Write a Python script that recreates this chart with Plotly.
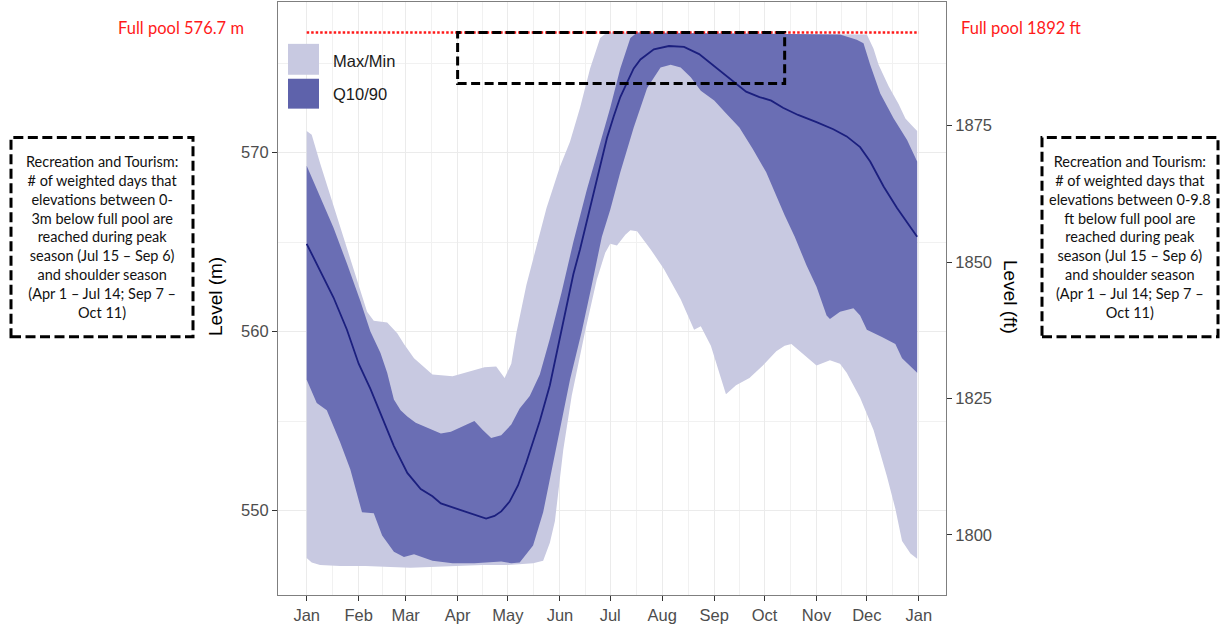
import plotly.graph_objects as go

# ---------------- data (day of year, metres) ----------------
max_days = [0, 3, 8, 16, 24, 31, 36, 40, 48, 54, 58, 64, 70, 75, 87, 98, 106, 113, 118, 122,
            125, 131, 137, 143, 151, 157, 163, 169, 175, 179, 334, 338, 341, 347, 353, 357, 361, 364]
max_m = [571.2, 571.0, 569.4, 567.0, 564.6, 562.5, 561.1, 560.6, 560.5, 559.9, 559.3, 558.5, 558.0,
         557.6, 557.5, 557.8, 558.0, 558.05, 557.4, 558.2, 559.9, 562.6, 564.8, 566.9, 569.2, 570.6,
         572.5, 574.7, 576.4, 576.7, 576.6, 575.8, 574.9, 573.7, 572.7, 571.9, 571.5, 571.2]

q90_days = [0, 8, 16, 24, 32, 38, 44, 48, 52, 56, 60, 65, 70, 75, 80, 86, 91, 96, 100, 105, 110,
            116, 122, 127, 133, 139, 145, 152, 159, 167, 173, 181, 187, 193, 197, 318, 328, 332,
            336, 342, 350, 358, 364]
q90_m = [569.26, 567.5, 565.8, 563.8, 561.7, 560.0, 558.8, 557.7, 556.2, 555.6, 555.25, 554.9, 554.7,
         554.5, 554.3, 554.4, 554.6, 554.8, 555.0, 554.5, 554.05, 554.2, 554.8, 555.7, 556.4, 557.6,
         559.6, 562.2, 565.0, 567.9, 569.9, 572.5, 574.7, 576.4, 576.7, 576.6, 576.3, 576.1, 574.9,
         573.3, 571.9, 570.7, 569.5]

median_days = [0, 8, 16, 24, 31, 38, 44, 52, 60, 68, 75, 80, 91, 99, 107, 112, 116, 121, 126, 131,
               139, 145, 152, 159, 163, 168, 171, 175, 179, 183, 187, 191, 195, 199, 207, 216, 225,
               234, 244, 254, 262, 270, 277, 284, 293, 304, 314, 322, 330, 336, 344, 352, 359, 364]
median_m = [564.9, 563.4, 561.9, 560.1, 558.2, 556.8, 555.4, 553.6, 552.1, 551.2, 550.8, 550.4,
            550.05, 549.8, 549.55, 549.7, 549.95, 550.5, 551.4, 552.7, 555.0, 557.0, 560.1, 563.2,
            564.6, 566.5, 567.8, 569.3, 570.8, 572.0, 573.1, 573.9, 574.7, 575.2, 575.77, 575.95,
            575.9, 575.5, 574.75, 574.0, 573.4, 573.1, 572.9, 572.5, 572.1, 571.7, 571.3, 570.9,
            570.3, 569.5, 568.1, 566.9, 566.0, 565.3]

q10_days = [0, 6, 12, 20, 26, 33, 40, 45, 52, 58, 64, 75, 87, 100, 116, 122, 127, 135, 141, 147,
            152, 157, 164, 170, 176, 181, 187, 195, 203, 211, 217, 223, 229, 235, 243, 250, 258,
            266, 274, 280, 285, 291, 298, 304, 310, 312, 318, 326, 330, 334, 343, 351, 355, 364]
q10_m = [557.3, 556.0, 555.6, 553.8, 552.3, 549.9, 549.85, 548.6, 547.7, 547.4, 547.55, 547.2,
         547.05, 547.05, 547.15, 547.05, 547.1, 548.05, 549.9, 552.7, 555.0, 557.3, 560.0, 562.6,
         565.3, 566.8, 568.9, 571.4, 573.6, 574.75, 574.9, 574.75, 574.2, 573.45, 572.9, 572.2,
         571.4, 570.2, 568.9, 567.6, 566.5, 565.3, 563.7, 562.5, 560.9, 560.7, 561.1, 561.3,
         560.9, 560.1, 559.7, 559.3, 558.5, 557.7]

min_days = [0, 3, 8, 20, 35, 50, 62, 75, 90, 105, 120, 135, 141, 145, 148, 150, 153, 158, 166, 173,
            178, 181, 185, 190, 193, 197, 205, 213, 223, 231, 235, 241, 246, 250, 256, 264, 272,
            280, 285, 289, 294, 304, 312, 318, 322, 330, 338, 346, 351, 355, 360, 364]
min_m = [547.35, 547.1, 546.95, 546.9, 546.9, 546.85, 546.8, 546.85, 546.9, 546.95, 546.95, 547.05,
         547.2, 548.2, 549.4, 550.8, 553.4, 556.4, 560.0, 562.9, 564.4, 564.9, 564.8, 565.4,
         565.66, 565.6, 564.6, 563.5, 561.8, 560.1, 560.3, 559.2, 557.7, 556.5, 557.0, 557.4,
         558.1, 558.9, 559.2, 559.3, 558.9, 558.1, 558.4, 558.2, 557.7, 556.3, 554.5, 551.9,
         550.1, 548.3, 547.6, 547.3]

month_days = [0, 31, 59, 90, 120, 151, 181, 212, 243, 273, 304, 334, 365]
month_labels = ["Jan", "Feb", "Mar", "Apr", "May", "Jun", "Jul", "Aug", "Sep", "Oct", "Nov", "Dec", "Jan"]
m_ticks = [550, 560, 570]
m_minor = [555, 565, 575]
ft_ticks = [1800, 1825, 1850, 1875]

full_pool_m = 576.7
full_pool_ft = 1892
rec_low_m = 573.85          # lower edge of the dashed recreation window
rec_start_day = 90          # Apr 1
rec_end_day = 285           # ~Oct 11
M_TO_FT = 3.28084

legend_labels = ["Max/Min", "Q10/90"]
box_text_m = ("Recreation and Tourism:<br># of weighted days that<br>elevations between 0-<br>"
              "3m below full pool are<br>reached during peak<br>season (Jul 15 \u2013 Sep 6)<br>"
              "and shoulder season<br>(Apr 1 \u2013 Jul 14; Sep 7 \u2013<br>Oct 11)")
box_text_ft = ("Recreation and Tourism:<br># of weighted days that<br>elevations between 0-9.8<br>"
               "ft below full pool are<br>reached during peak<br>season (Jul 15 \u2013 Sep 6)<br>"
               "and shoulder season<br>(Apr 1 \u2013 Jul 14; Sep 7 \u2013<br>Oct 11)")

# ---------------- styling ----------------
LIGHT = "#c8c9e1"
DARK = "#6a6eb4"
LEG_DARK = "#5e62ab"
NAVY = "#1b1f7e"
GRID = "#ebebeb"
MINOR_GRID = "#f1f1f1"
TICKFONT = dict(family="Liberation Sans, Arial, sans-serif", size=16.5, color="#4d4d4d")
CAL = "Lato"

W, H = 1221, 625
L, R, T, B = 278, 275, 1, 29
PW, PH = W - L - R, H - T - B


def px(x):
    return (x - L) / PW


def py(y):
    return (H - B - y) / PH


y_range = [545.28, 578.41]
x_range = [-17.1, 381.2]
month_minor = [(a + b) / 2 for a, b in zip(month_days[:-1], month_days[1:])]

fig = go.Figure()

fig.add_trace(go.Scatter(
    x=max_days + min_days[::-1], y=max_m + min_m[::-1],
    fill="toself", fillcolor=LIGHT, line=dict(width=0), mode="lines",
    hoverinfo="skip", showlegend=False))
fig.add_trace(go.Scatter(
    x=q90_days + q10_days[::-1], y=q90_m + q10_m[::-1],
    fill="toself", fillcolor=DARK, line=dict(width=0), mode="lines",
    hoverinfo="skip", showlegend=False))
fig.add_trace(go.Scatter(
    x=median_days, y=median_m, mode="lines",
    line=dict(color=NAVY, width=1.8), showlegend=False))
fig.add_trace(go.Scatter(
    x=[month_days[0], month_days[-1]], y=[full_pool_m, full_pool_m], mode="lines",
    line=dict(color="#ff1a1a", width=2.5, dash="2.5px,2px"), showlegend=False))
# invisible trace on the feet axis so it renders
fig.add_trace(go.Scatter(
    x=[month_days[0], month_days[-1]], y=[full_pool_ft, full_pool_ft], mode="lines",
    line=dict(width=0), opacity=0, yaxis="y2", hoverinfo="skip", showlegend=False))

shapes = []
# dashed recreation window
shapes.append(dict(type="rect", xref="x", yref="y", x0=rec_start_day, x1=rec_end_day,
                   y0=rec_low_m, y1=full_pool_m,
                   line=dict(color="black", width=3, dash="9px,4.5px"), layer="above"))
# text boxes
for x0, x1 in [(11, 193), (1042, 1218)]:
    shapes.append(dict(type="rect", xref="paper", yref="paper", x0=px(x0), x1=px(x1),
                       y0=py(337), y1=py(137),
                       line=dict(color="black", width=3, dash="10px,4.5px")))
# manual legend keys
shapes.append(dict(type="rect", xref="paper", yref="paper", x0=px(288), x1=px(319),
                   y0=py(74), y1=py(43), fillcolor=LIGHT, line=dict(width=0)))
shapes.append(dict(type="rect", xref="paper", yref="paper", x0=px(288), x1=px(319),
                   y0=py(108), y1=py(78), fillcolor=LEG_DARK, line=dict(width=0)))


def note(x, y, text, font, xanchor="center", textangle=0):
    return dict(x=px(x), y=py(y), xref="paper", yref="paper", text=text, showarrow=False,
                xanchor=xanchor, yanchor="middle", align="center", textangle=textangle,
                font=font)


annotations = [
    note(331, 60, legend_labels[0],
         dict(family="Liberation Sans, Arial", size=16.5, color="#1a1a1a"), xanchor="left"),
    note(331, 93, legend_labels[1],
         dict(family="Liberation Sans, Arial", size=16.5, color="#1a1a1a"), xanchor="left"),
    note(181, 27, f"Full pool {full_pool_m} m", dict(family=CAL, size=16.5, color="#ff1a1a")),
    note(1022, 27, f"Full pool {full_pool_ft} ft", dict(family=CAL, size=16.5, color="#ff1a1a")),
    note(102, 237, box_text_m, dict(family=CAL, size=14.5, color="#111")),
    note(1130, 237, box_text_ft, dict(family=CAL, size=14.5, color="#111")),
    note(215, 297, "Level (m)", dict(family="Liberation Sans, Arial", size=19, color="black"),
         textangle=-90),
    note(1011, 297, "Level (ft)", dict(family="Liberation Sans, Arial", size=19, color="black"),
         textangle=90),
]

fig.update_layout(
    width=W, height=H,
    margin=dict(l=L, r=R, t=T, b=B, pad=0),
    paper_bgcolor="white", plot_bgcolor="white",
    showlegend=False,
    shapes=shapes, annotations=annotations,
    xaxis=dict(
        range=x_range, tickmode="array", tickvals=month_days, ticktext=month_labels,
        ticks="outside", ticklen=5, tickwidth=1.2, tickcolor="#333333",
        tickfont=TICKFONT, showgrid=True, gridcolor=GRID, gridwidth=1,
        minor=dict(tickmode="array", tickvals=month_minor, showgrid=True,
                   gridcolor=MINOR_GRID, gridwidth=1, ticks=""),
        showline=True, linecolor="#7f7f7f", linewidth=1.2, mirror=True,
        zeroline=False, fixedrange=True),
    yaxis=dict(
        range=y_range, tickmode="array", tickvals=m_ticks,
        ticks="outside", ticklen=5, tickwidth=1.2, tickcolor="#333333",
        tickfont=TICKFONT, showgrid=True, gridcolor=GRID, gridwidth=1,
        minor=dict(tickmode="array", tickvals=m_minor, showgrid=True,
                   gridcolor=MINOR_GRID, gridwidth=1, ticks=""),
        showline=True, linecolor="#7f7f7f", linewidth=1.2, mirror=True,
        zeroline=False, fixedrange=True),
    yaxis2=dict(
        range=[y_range[0] * M_TO_FT, y_range[1] * M_TO_FT], overlaying="y", side="right",
        tickmode="array", tickvals=ft_ticks,
        ticks="outside", ticklen=5, tickwidth=1.2, tickcolor="#333333",
        tickfont=TICKFONT, showgrid=False, zeroline=False, showline=False,
        fixedrange=True),
)

fig.write_html("out.html", config={"displayModeBar": False},
               post_script="document.body.style.margin='0';document.body.style.overflow='hidden';")
